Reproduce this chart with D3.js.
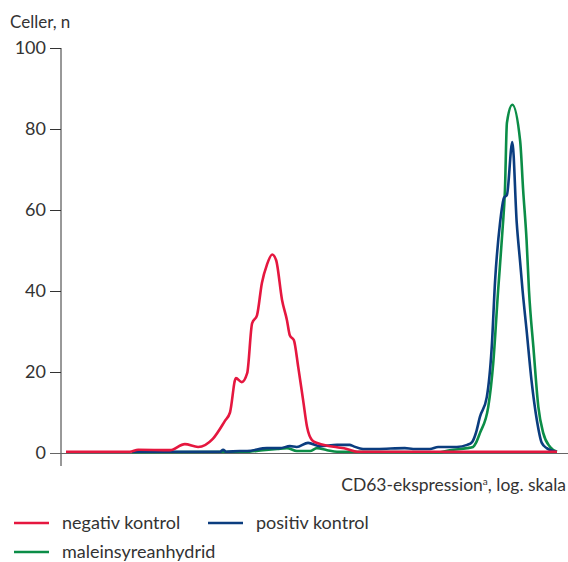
<!DOCTYPE html>
<html>
<head>
<meta charset="utf-8">
<script src="https://cdn.jsdelivr.net/npm/d3@7"></script>
<style>
  body { margin: 0; background: #fff; }
  text { font-family: Lato, "Noto Sans", sans-serif; fill: #333; }
</style>
</head>
<body>
<svg id="chart" width="568" height="562"></svg>
<script>
// channel (log scale, 0..1000) and number of cells
var negX = [0, 130, 147, 212, 242, 269, 299, 324, 334, 346, 358, 369, 379, 389, 399, 409, 420, 428, 440, 450, 456, 464, 473, 483, 491, 501, 513, 532, 552, 572, 593, 1000];
var negY = [0.3, 0.3, 0.8, 0.7, 2.2, 1.5, 3.5, 8, 10, 18.5, 17.5, 19.7, 32, 34, 42, 46.4, 49, 47.6, 37.8, 32.8, 29, 27.9, 21.2, 13, 6.4, 3.2, 2.4, 1.8, 1.4, 1, 0.3, 0.3];

var posX = [134, 314, 320, 326, 354, 369, 409, 436, 456, 470, 493, 517, 552, 578, 585, 605, 633, 690, 707, 741, 758, 796, 817, 827, 835, 843, 857, 867, 874, 884, 892, 898, 909, 918, 925, 930, 938, 948, 959, 969, 979, 999];
var posY = [0.3, 0.3, 0.8, 0.3, 0.5, 0.5, 1.2, 1.2, 1.7, 1.5, 2.5, 1.7, 2, 2, 1.7, 1, 1, 1.2, 1, 1, 1.5, 1.5, 2, 2.7, 5, 8.9, 13.8, 26, 42.7, 56.8, 63, 63.7, 76.8, 56.8, 47, 40, 30.4, 18, 8.1, 2.5, 1.2, 0.3];

var greX = [134, 365, 401, 430, 450, 470, 497, 511, 532, 552, 762, 782, 817, 829, 835, 843, 860, 870, 880, 889, 894, 898, 909, 925, 931, 938, 943, 952, 962, 972, 986, 1000];
var greY = [0.2, 0.3, 0.7, 1, 1.2, 0.5, 0.5, 1.2, 0.7, 0.3, 0.2, 0.7, 1.2, 1.5, 2.5, 4.9, 11.4, 22, 40, 55, 65, 81.5, 86, 77, 65, 52.6, 40, 26, 11.4, 4.9, 1.5, 0.3];

var yTicks = [0, 20, 40, 60, 80, 100];
var seriesNames = ["negativ kontrol", "positiv kontrol", "maleinsyreanhydrid"];
var seriesColors = ["#e5173f", "#0b3d7f", "#0b8d47"];

var svg = d3.select("#chart");
var x = d3.scaleLinear().domain([0, 1000]).range([66, 557]);
var y = d3.scaleLinear().domain([0, 100]).range([453, 48]);

// axes
var yAxis = svg.append("g").attr("transform", "translate(61,0)")
    .call(d3.axisLeft(y).tickValues(yTicks).tickSize(11).tickPadding(4));
yAxis.select(".domain").remove();
yAxis.selectAll(".tick line").attr("stroke", "#333");
yAxis.selectAll(".tick text").style("font-size", "18px").attr("fill", "#333");

svg.append("line").attr("x1", 61).attr("x2", 61).attr("y1", 48).attr("y2", 466)
    .attr("stroke", "#333");
svg.append("line").attr("x1", 50).attr("x2", 568).attr("y1", y(0) + 0.5).attr("y2", y(0) + 0.5)
    .attr("stroke", "#666");

var line = d3.line()
    .x(function (d) { return x(d[0]); })
    .y(function (d) { return y(d[1]); })
    .curve(d3.curveMonotoneX);

function pairs(xs, ys) {
    return xs.map(function (v, i) { return [v, ys[i]]; });
}

var all = [pairs(negX, negY), pairs(posX, posY), pairs(greX, greY)];

[2, 1, 0].forEach(function (i) {
    svg.append("path")
        .datum(all[i])
        .attr("fill", "none")
        .attr("stroke", seriesColors[i])
        .attr("stroke-width", 2.6)
        .attr("stroke-linejoin", "round")
        .attr("d", line);
});

svg.append("text").attr("x", 10).attr("y", 28).style("font-size", "17px").text("Celler, n");

var xt = svg.append("text").attr("x", 566).attr("y", 491).attr("text-anchor", "end")
    .style("font-size", "17.5px");
xt.append("tspan").text("CD63-ekspression");
xt.append("tspan").attr("dy", -6).style("font-size", "10px").text("a");
xt.append("tspan").attr("dy", 6).text(", log. skala");

// legend
var legendPos = [[14, 523], [208, 523], [14, 552]];
seriesNames.forEach(function (name, i) {
    var p = legendPos[i];
    svg.append("line").attr("x1", p[0]).attr("x2", p[0] + 35)
        .attr("y1", p[1]).attr("y2", p[1])
        .attr("stroke", seriesColors[i]).attr("stroke-width", 2.6);
    svg.append("text").attr("x", p[0] + 48).attr("y", p[1] + 6)
        .style("font-size", "18px").text(name);
});
</script>
</body>
</html>
